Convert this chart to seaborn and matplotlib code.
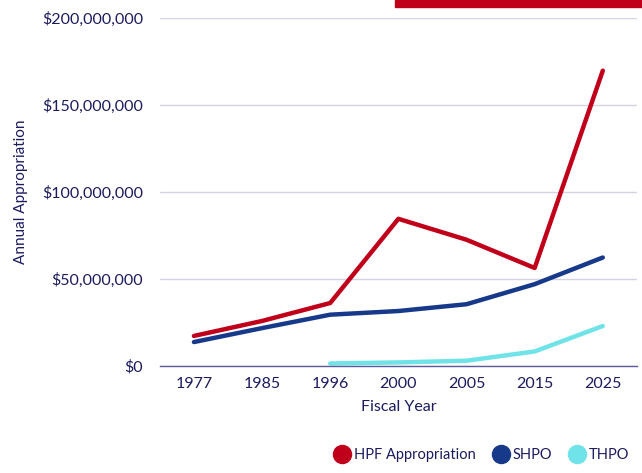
import numpy as np
import pandas as pd
import matplotlib
matplotlib.use("Agg")
import matplotlib.pyplot as plt
from matplotlib.lines import Line2D
from matplotlib.patches import Rectangle
from matplotlib.ticker import FuncFormatter
import seaborn as sns

# Data (dollars)
years = ["1977", "1985", "1996", "2000", "2005", "2015", "2025"]
hpf = [17.3e6, 25.9e6, 36.2e6, 84.5e6, 72.5e6, 56.3e6, 169.5e6]
shpo = [13.8e6, 21.8e6, 29.5e6, 31.6e6, 35.5e6, 47.0e6, 62.3e6]
thpo_years = ["1996", "2000", "2005", "2015", "2025"]
thpo = [1.5e6, 2.1e6, 3.1e6, 8.4e6, 23.0e6]

series_names = ["HPF Appropriation", "SHPO", "THPO"]
colors = ["#C0001A", "#17398A", "#6FE3E8"]
text_color = "#1B1B5E"

df = pd.concat([
    pd.DataFrame({"Year": years, "Value": hpf, "Series": "HPF Appropriation"}),
    pd.DataFrame({"Year": years, "Value": shpo, "Series": "SHPO"}),
    pd.DataFrame({"Year": thpo_years, "Value": thpo, "Series": "THPO"}),
])
df["Year"] = pd.Categorical(df["Year"], categories=years, ordered=True)
df["x"] = df["Year"].cat.codes

sns.set_style("white")
plt.rcParams["font.family"] = ["Lato", "DejaVu Sans"]

fig = plt.figure(figsize=(6.42, 4.73), dpi=100)
ax = fig.add_axes([0.249, 0.226, 0.743, 0.737])

sns.lineplot(data=df, x="x", y="Value", hue="Series", hue_order=series_names,
             palette=colors, linewidth=3.2, ax=ax, legend=False,
             solid_capstyle="round")

ax.set_ylim(0, 200e6)
ax.set_xlim(-0.5, len(years) - 0.5)
ax.set_yticks(np.arange(0, 200e6 + 1, 50e6))
ax.set_xticks(range(len(years)))
ax.set_xticklabels(years)
ax.yaxis.set_major_formatter(FuncFormatter(lambda v, p: f"${v:,.0f}"))

ax.grid(axis="y", color="#D3D3E3", linewidth=1.0)
ax.grid(axis="x", visible=False)
ax.set_axisbelow(True)
for side in ["top", "right", "left"]:
    ax.spines[side].set_visible(False)
ax.spines["bottom"].set_color("#5C5C9C")
ax.spines["bottom"].set_linewidth(1.0)

ax.tick_params(axis="both", length=0, labelsize=11.5, labelcolor=text_color)
ax.tick_params(axis="y", pad=12)
ax.tick_params(axis="x", pad=8)
ax.set_xlabel("Fiscal Year", fontsize=11.5, color=text_color, labelpad=6)
ax.set_ylabel("Annual Appropriation", fontsize=11, color=text_color, labelpad=10)

# legend with round markers at the bottom right
handles = [Line2D([0], [0], marker="o", linestyle="", markersize=13,
                  markerfacecolor=c, markeredgecolor=c) for c in colors]
leg = fig.legend(handles, series_names, loc="lower right", ncol=3,
                 bbox_to_anchor=(1.0, -0.005), frameon=False, fontsize=10.5,
                 handletextpad=0.1, columnspacing=1.0, handlelength=1.4)
for t in leg.get_texts():
    t.set_color(text_color)

# red decorative bar at top right
fig.patches.append(Rectangle((0.615, 0.985), 0.385, 0.015, transform=fig.transFigure,
                             color="#C0001A", zorder=5))

fig.savefig("out.png", dpi=100)
